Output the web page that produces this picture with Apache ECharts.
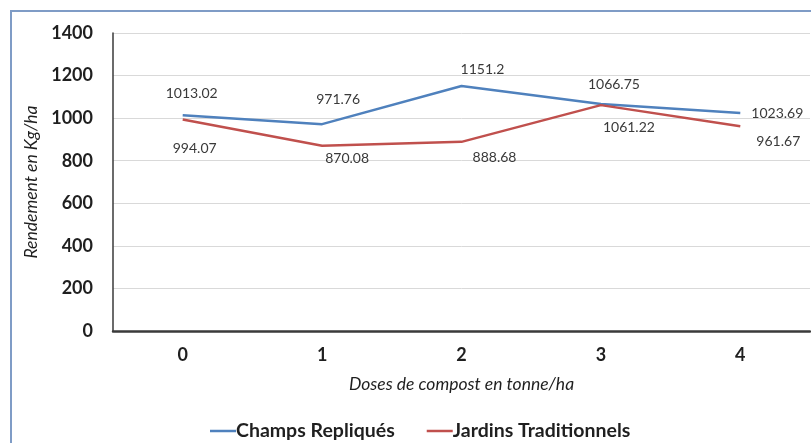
<!DOCTYPE html>
<html>
<head>
<meta charset="utf-8">
<script src="https://cdn.jsdelivr.net/npm/echarts@6/dist/echarts.min.js"></script>
<style>
  html, body { margin: 0; padding: 0; background: #ffffff; }
  #chart { width: 811px; height: 443px; }
</style>
</head>
<body>
<div id="chart"></div>
<script>
// Doses de compost (t/ha)
var doses = ['0', '1', '2', '3', '4'];
// Rendement (kg/ha)
var champsRepliques = [1013.02, 971.76, 1151.2, 1066.75, 1023.69];
var jardinsTraditionnels = [994.07, 870.08, 888.68, 1061.22, 961.67];
var yTicks = [0, 200, 400, 600, 800, 1000, 1200, 1400];

// Value-label shifts (px) away from each point, so labels don't overlap the lines
var shiftChamps = [[9, -22], [16, -25], [21, -16], [13, -19], [37, 0]];
var shiftJardins = [[12, 29], [25, 13], [33, 16], [28, 22], [38, 15]];

var BLUE = '#4f81bd';
var RED = '#c0504d';
var TEXT = '#3a3a3a';
var DARK = '#1f1f1f';
var FONT = 'Lato, "Open Sans", sans-serif';

function withLabels(values, shifts) {
  return values.map(function (v, i) {
    return { value: v, label: { offset: shifts[i] } };
  });
}

function lineSeries(name, values, shifts, color) {
  return {
    name: name,
    type: 'line',
    data: withLabels(values, shifts),
    symbol: 'circle',
    symbolSize: 1,
    showSymbol: true,
    itemStyle: { color: 'rgba(0,0,0,0)' },
    lineStyle: { color: color, width: 2.5 },
    emphasis: { disabled: true },
    label: {
      show: true,
      position: 'inside',
      color: TEXT,
      fontFamily: FONT,
      fontSize: 14
    },
    animation: false
  };
}

var chart = echarts.init(document.getElementById('chart'), null, { renderer: 'canvas' });
chart.setOption({
  backgroundColor: '#ffffff',
  animation: false,
  graphic: [{
    type: 'rect',
    shape: { x: 11, y: 11, width: 900, height: 500 },
    style: { fill: 'none', stroke: '#7f9cc6', lineWidth: 2 },
    silent: true
  }],
  grid: { left: 113, right: 1, top: 33, bottom: 112, containLabel: false },
  legend: {
    left: 205,
    top: 416,
    icon: 'rect',
    itemWidth: 26,
    itemHeight: 2.5,
    itemGap: 32,
    textStyle: { color: DARK, fontFamily: FONT, fontWeight: 'bold', fontSize: 19.5, padding: [0, 0, 0, -5] },
    data: [
      { name: 'Champs Repliqués', itemStyle: { color: BLUE } },
      { name: 'Jardins Traditionnels', itemStyle: { color: RED } }
    ]
  },
  xAxis: {
    type: 'category',
    data: doses,
    boundaryGap: true,
    name: 'Doses de compost en tonne/ha',
    nameLocation: 'middle',
    nameGap: 44,
    nameTextStyle: { color: DARK, fontFamily: FONT, fontStyle: 'italic', fontSize: 17.5 },
    axisLine: { lineStyle: { color: '#3a3a3a', width: 2.5 } },
    axisTick: { show: false },
    axisLabel: { color: DARK, fontFamily: FONT, fontWeight: 'bold', fontSize: 18, margin: 15 }
  },
  yAxis: {
    type: 'value',
    min: yTicks[0],
    max: yTicks[yTicks.length - 1],
    interval: 200,
    name: 'Rendement en Kg/ha',
    nameLocation: 'middle',
    nameGap: 68,
    nameTextStyle: { color: DARK, fontFamily: FONT, fontStyle: 'italic', fontSize: 17.5 },
    axisLine: { show: true, lineStyle: { color: '#3a3a3a', width: 1.5 } },
    axisTick: { show: false },
    axisLabel: {
      color: DARK, fontFamily: FONT, fontWeight: 'bold', fontSize: 18, margin: 20,
      formatter: function (v) { return String(v); }
    },
    splitLine: { show: true, lineStyle: { color: '#d9d9d9', width: 1 } }
  },
  series: [
    lineSeries('Champs Repliqués', champsRepliques, shiftChamps, BLUE),
    lineSeries('Jardins Traditionnels', jardinsTraditionnels, shiftJardins, RED)
  ]
});
</script>
</body>
</html>
